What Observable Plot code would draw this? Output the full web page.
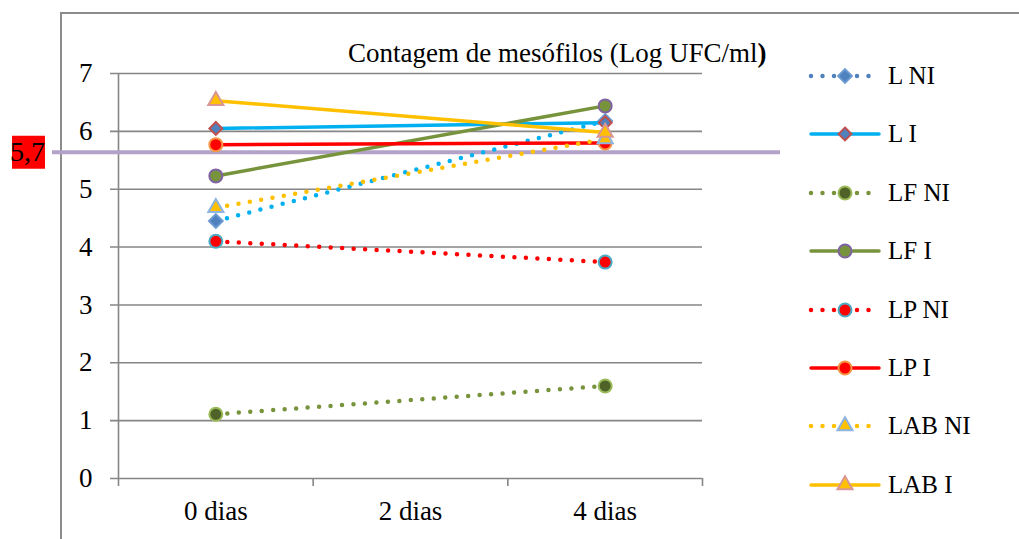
<!DOCTYPE html>
<html>
<head>
<meta charset="utf-8">
<script src="https://cdn.jsdelivr.net/npm/d3@7"></script>
<script src="https://cdn.jsdelivr.net/npm/@observablehq/plot@0.6"></script>
<style>
  body { margin: 0; background: #fff; }
  #wrap { position: relative; width: 1019px; height: 539px; overflow: hidden; font-family: "Liberation Serif", serif; color: #000; }
  #frame { position: absolute; left: 60px; top: 12px; right: -10px; bottom: -10px; border-left: 2px solid #8c8c8c; border-top: 2px solid #8c8c8c; }
  #chart { position: absolute; left: 0; top: 0; }
  #title { position: absolute; left: 348px; top: 38px; font-size: 27px; line-height: 30px; white-space: nowrap; }
  .leg { position: absolute; left: 808px; height: 30px; display: flex; align-items: center; font-size: 25px; white-space: nowrap; }
  .leg svg { margin-right: 6px; }
</style>
</head>
<body>
<div id="wrap">
  <div id="frame"></div>
  <div id="chart"></div>
  <div id="title"></div>
  <div id="legend"></div>
</div>
<script>
// ---------- data ----------
const measuredDays = [0, 4];
const tickDays = [0, 2, 4];
const tickLabels = ["0 dias", "2 dias", "4 dias"];
const categoryBounds = [-1, 1, 3, 5];
const yTicks = [0, 1, 2, 3, 4, 5, 6, 7];
const seriesNames = ["L NI", "L I", "LF NI", "LF I", "LP NI", "LP I", "LAB NI", "LAB I"];
const valuesDay0 = [4.45, 6.05, 1.11, 5.23, 4.10, 5.77, 4.68, 6.53];
const valuesDay4 = [6.18, 6.15, 1.60, 6.44, 3.74, 5.80, 5.87, 5.98];
const thresholdValue = 5.64;
const thresholdLabel = "5,7";
const titleMain = "Contagem de mesófilos (Log UFC/ml";
const titleEnd = ")";

// ---------- styles ----------
const styles = {
  "L NI":   {line: "#00B0F0", legendLine: "#4F81BD", dotted: true,  symbol: "diamond2", r: 6.2, fill: "#4F81BD", stroke: "#6C9BD2"},
  "L I":    {line: "#00B0F0", legendLine: "#00B0F0", dotted: false, symbol: "diamond2", r: 5.8, fill: "#4F81BD", stroke: "#C0504D"},
  "LF NI":  {line: "#77933C", legendLine: "#77933C", dotted: true,  symbol: "circle",   r: 6.5, fill: "#4F6228", stroke: "#9BBB59"},
  "LF I":   {line: "#77933C", legendLine: "#77933C", dotted: false, symbol: "circle",   r: 6.5, fill: "#77933C", stroke: "#8064A2"},
  "LP NI":  {line: "#FF0000", legendLine: "#FF0000", dotted: true,  symbol: "circle",   r: 6.5, fill: "#FF0000", stroke: "#4BACC6"},
  "LP I":   {line: "#FF0000", legendLine: "#FF0000", dotted: false, symbol: "circle",   r: 6.5, fill: "#FF0000", stroke: "#F79646"},
  "LAB NI": {line: "#FFC000", legendLine: "#FFC000", dotted: true,  symbol: "triangle", r: 5.6, fill: "#FFC000", stroke: "#8EB4E3"},
  "LAB I":  {line: "#FFC000", legendLine: "#FFC000", dotted: false, symbol: "triangle", r: 5.6, fill: "#FFC000", stroke: "#D99694"}
};
const gridColor = "#868686";

const rows = seriesNames.flatMap((s, i) => [
  {series: s, day: measuredDays[0], value: valuesDay0[i]},
  {series: s, day: measuredDays[1], value: valuesDay4[i]}
]);

const seriesMarks = seriesNames.flatMap(s => {
  const st = styles[s];
  const data = rows.filter(d => d.series === s);
  return [
    Plot.line(data, {
      x: "day", y: "value", stroke: st.line,
      strokeWidth: st.dotted ? 4.5 : 3.5,
      strokeDasharray: st.dotted ? "0 11.5" : null,
      strokeLinecap: "round"
    }),
    Plot.dot(data, {
      x: "day", y: "value", symbol: st.symbol, r: st.r,
      fill: st.fill, stroke: st.stroke, strokeWidth: 2
    })
  ];
});

const chart = Plot.plot({
  width: 1019,
  height: 539,
  marginLeft: 118,
  marginRight: 317,
  marginTop: 73,
  marginBottom: 61,
  x: {type: "linear", domain: [categoryBounds[0], categoryBounds[categoryBounds.length - 1]]},
  y: {domain: [yTicks[0], yTicks[yTicks.length - 1]]},
  style: {fontFamily: "'Liberation Serif', serif", fontSize: "27px", color: "#000", background: "transparent", overflow: "visible"},
  marks: [
    Plot.ruleY(yTicks, {stroke: gridColor, strokeWidth: 1.6, insetLeft: -8}),
    Plot.ruleX([categoryBounds[0]], {y1: yTicks[0], y2: yTicks[yTicks.length - 1], stroke: gridColor, strokeWidth: 1.6}),
    Plot.axisX(categoryBounds, {tickSize: 8, tickFormat: () => "", stroke: gridColor, strokeWidth: 1.6, label: null}),
    Plot.axisX(tickDays, {tickSize: 0, tickPadding: 22, tickFormat: d => tickLabels[tickDays.indexOf(d)], fill: "#000", fontSize: 27, label: null}),
    Plot.axisY(yTicks, {tickSize: 0, tickPadding: 26, tickFormat: d => String(d), fill: "#000", fontSize: 27, label: null}),
    Plot.ruleY([thresholdValue], {stroke: "#B3A2C7", strokeWidth: 4, insetLeft: -66, insetRight: -78}),
    ...seriesMarks,
    Plot.dot([thresholdValue], {y: d => d, frameAnchor: "left", dx: -90, symbol: "square", r: 18.6, fill: "#FF0000"}),
    Plot.text([{v: thresholdValue, t: thresholdLabel}], {y: "v", text: "t", frameAnchor: "left", textAnchor: "middle", dx: -91, fontSize: 28, fill: "#000"})
  ]
});
document.getElementById("chart").appendChild(chart);

// ---------- title ----------
const title = document.getElementById("title");
title.append(titleMain);
const b = document.createElement("b");
b.textContent = titleEnd;
title.appendChild(b);

// ---------- legend ----------
const symbolTypes = {diamond2: d3.symbolDiamond2, circle: d3.symbolCircle, triangle: d3.symbolTriangle};
const legend = d3.select("#legend");
const legendTop = 61, legendStep = 58.4;
seriesNames.forEach((s, i) => {
  const st = styles[s];
  const row = legend.append("div").attr("class", "leg").style("top", (legendTop + i * legendStep) + "px");
  const svg = row.append("svg").attr("width", 74).attr("height", 30);
  svg.append("line")
    .attr("x1", 3).attr("x2", 71).attr("y1", 15).attr("y2", 15)
    .attr("stroke", st.legendLine)
    .attr("stroke-width", st.dotted ? 4.5 : 3.5)
    .attr("stroke-linecap", "round")
    .attr("stroke-dasharray", st.dotted ? "0 11.5" : null);
  svg.append("path")
    .attr("transform", "translate(37,15)")
    .attr("d", d3.symbol(symbolTypes[st.symbol], st.r * st.r * Math.PI)())
    .attr("fill", st.fill).attr("stroke", st.stroke).attr("stroke-width", 2);
  row.append("span").text(s);
});
</script>
</body>
</html>
